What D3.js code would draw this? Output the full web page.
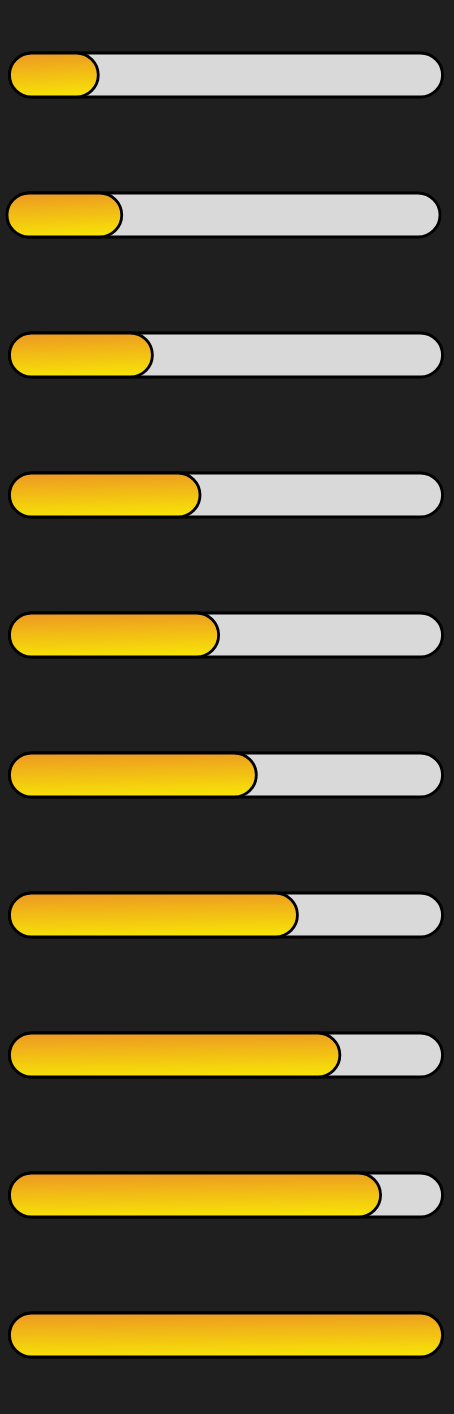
<!DOCTYPE html>
<html>
<head>
<meta charset="utf-8">
<script src="https://cdn.jsdelivr.net/npm/d3@7"></script>
<style>
  html, body { margin: 0; padding: 0; background: #1f1f1f; }
  svg { display: block; }
</style>
</head>
<body>
<div id="chart"></div>
<script>
// progress values, percent of track
const bars = ["p1", "p2", "p3", "p4", "p5", "p6", "p7", "p8", "p9", "p10"];
const values = [20.5, 26.5, 33, 44, 48.3, 57, 66.5, 76.3, 85.7, 100];

const width = 454;
const height = 1414;
const barH = 44;
const trackLeft = 9.5;
const trackRight = 442.5;
// the second row sits a little to the left in the original
const rowShift = [0, -2.5, 0, 0, 0, 0, 0, 0, 0, 0];

const svg = d3
  .select("#chart")
  .append("svg")
  .attr("width", width)
  .attr("height", height);

svg.append("rect").attr("width", width).attr("height", height).attr("fill", "#1f1f1f");

const defs = svg.append("defs");
const grad = defs
  .append("linearGradient")
  .attr("id", "fillGrad")
  .attr("x1", "0.45")
  .attr("y1", "0")
  .attr("x2", "0.55")
  .attr("y2", "1");
grad.append("stop").attr("offset", "0%").attr("stop-color", "#ed9a22");
grad.append("stop").attr("offset", "100%").attr("stop-color", "#f7e406");

const x = d3.scaleLinear().domain([0, 100]).range([trackLeft, trackRight]);

const y = d3
  .scalePoint()
  .domain(bars)
  .range([75, 1335]);

const rows = svg
  .selectAll(".row")
  .data(bars.map((b, i) => ({ name: b, value: values[i], shift: rowShift[i] })))
  .enter()
  .append("g")
  .attr("class", "row")
  .attr("transform", (d) => `translate(${d.shift}, ${y(d.name) - barH / 2})`);

// track
rows
  .append("rect")
  .attr("x", x(0))
  .attr("y", 0)
  .attr("width", x(100) - x(0))
  .attr("height", barH)
  .attr("rx", barH / 2)
  .attr("fill", "#d9d9d9")
  .attr("stroke", "#000")
  .attr("stroke-width", 2.8);

// fill
rows
  .append("rect")
  .attr("x", x(0))
  .attr("y", 0)
  .attr("width", (d) => Math.max(barH, x(d.value) - x(0)))
  .attr("height", barH)
  .attr("rx", barH / 2)
  .attr("fill", "url(#fillGrad)")
  .attr("stroke", "#000")
  .attr("stroke-width", 2.8);
</script>
</body>
</html>
